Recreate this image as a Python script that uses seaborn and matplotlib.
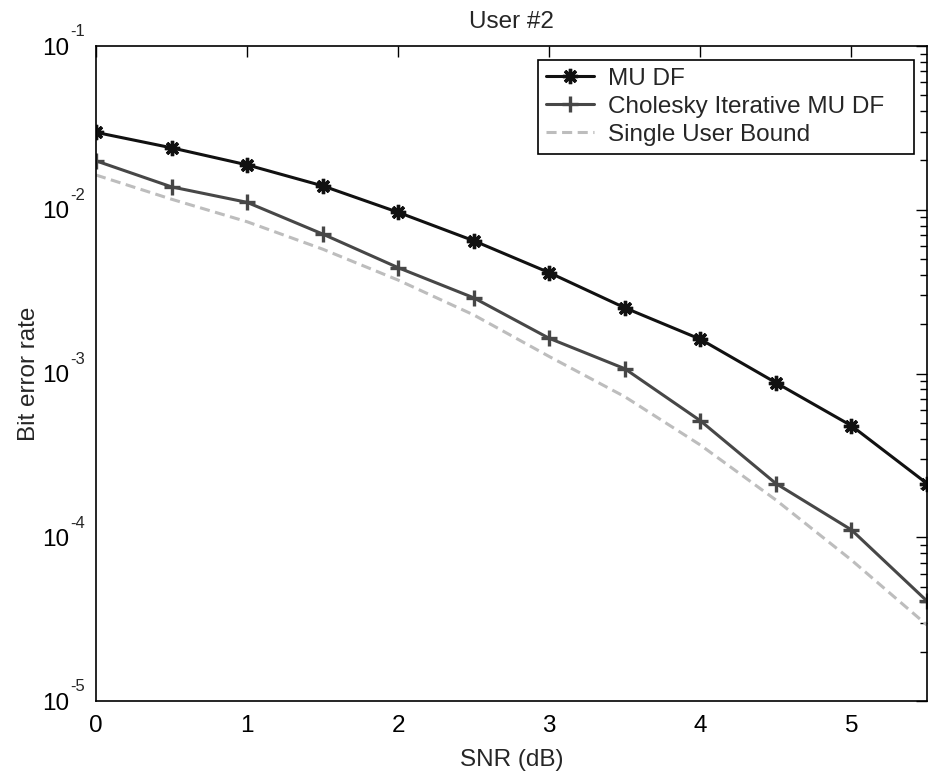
import numpy as np
import pandas as pd
import seaborn as sns
import matplotlib.pyplot as plt
from matplotlib.ticker import LogLocator, NullFormatter, FixedLocator, FuncFormatter

# valores
snr = [0, 0.5, 1, 1.5, 2, 2.5, 3, 3.5, 4, 4.5, 5, 5.5]
ber_mudf = [0.0297, 0.0239, 0.0188, 0.0140, 0.00965, 0.00647,
            0.00413, 0.00252, 0.00162, 0.000879, 0.00048, 0.000213]
ber_chol = [0.0199, 0.0138, 0.0111, 0.00711, 0.00443, 0.0029,
            0.00164, 0.00107, 0.000515, 0.000213, 0.000111, 4.08e-5]
ber_single = [0.0163, 0.0116, 0.00845, 0.00575, 0.00372, 0.00228,
              0.00127, 0.000722, 0.000366, 0.000169, 7.26e-5, 2.91e-5]
exponentes = [-5, -4, -3, -2, -1]

sns.set_style("white")
plt.rcParams['font.family'] = ['Liberation Sans', 'DejaVu Sans']
plt.rcParams['axes.unicode_minus'] = False

df = pd.DataFrame({'snr': snr, 'mudf': ber_mudf, 'chol': ber_chol, 'single': ber_single})

fig = plt.figure(figsize=(9.32, 7.76), dpi=100)
ax = fig.add_axes([0.103, 0.0966, 0.8916, 0.8441])

sns.lineplot(data=df, x='snr', y='mudf', ax=ax, color='#111111', lw=2.2,
             marker=(8, 2, 0), markersize=11, markeredgewidth=2.4,
             markeredgecolor='#111111', label='MU DF')
sns.lineplot(data=df, x='snr', y='chol', ax=ax, color='#474747', lw=2.2,
             marker='+', markersize=12, markeredgewidth=2.4,
             markeredgecolor='#474747', label='Cholesky Iterative MU DF')
sns.lineplot(data=df, x='snr', y='single', ax=ax, color='#bdbdbd', lw=2.2,
             linestyle=(0, (3.3, 1.8)), label='Single User Bound')

ax.set_yscale('log')
ax.set_xlim(0, 5.5)
ax.set_ylim(1e-5, 1e-1)
ax.xaxis.set_major_locator(FixedLocator([0, 1, 2, 3, 4, 5]))
ax.yaxis.set_major_locator(FixedLocator([10.0 ** e for e in exponentes]))
ax.yaxis.set_major_formatter(FuncFormatter(lambda v, p: '10'))
ax.yaxis.set_minor_locator(LogLocator(base=10, subs=np.arange(2, 10), numticks=10))
ax.yaxis.set_minor_formatter(NullFormatter())

ax.tick_params(which='both', direction='in', top=True, right=True, width=1, colors='black')
ax.tick_params(which='major', length=8, labelsize=17.5)
ax.tick_params(axis='x', which='major', pad=10)
ax.tick_params(axis='y', which='major', pad=19)
ax.tick_params(which='minor', length=5)
for s in ax.spines.values():
    s.set_linewidth(1.2)
    s.set_color('black')

# exponentes estilo MATLAB
for e in exponentes:
    ax.annotate(str(e), xy=(0, 10.0 ** e), xycoords=('axes fraction', 'data'),
                xytext=(-18.5, 7), textcoords='offset points',
                ha='left', va='baseline', fontsize=12)

ax.set_xlabel('SNR (dB)', fontsize=17.5, labelpad=9)
ax.set_ylabel('Bit error rate', fontsize=17.5, labelpad=2)
ax.set_title('User #2', fontsize=17.5, pad=13)

leg = ax.legend(loc='upper left', bbox_to_anchor=(0.532, 0.9786, 0.4525, 0.0),
                mode='expand', fontsize=17.5, frameon=True, fancybox=False,
                edgecolor='black', framealpha=1, borderaxespad=0,
                handlelength=2.0, handletextpad=0.55, labelspacing=0.25,
                borderpad=0.32)
leg.get_frame().set_linewidth(1.2)

fig.savefig('out.png', dpi=100)
